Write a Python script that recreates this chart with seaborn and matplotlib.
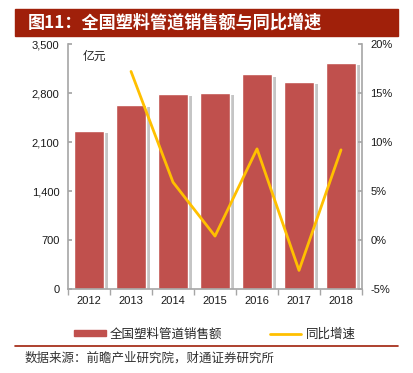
import numpy as np
import pandas as pd
import seaborn as sns
import matplotlib.pyplot as plt
import matplotlib.patheffects as pe
from matplotlib.patches import Rectangle
from matplotlib.lines import Line2D
from matplotlib.ticker import FuncFormatter, FixedLocator

years = ['2012', '2013', '2014', '2015', '2016', '2017', '2018']
sales = [2255, 2630, 2785, 2805, 3065, 2955, 3235]
growth_years = ['2013', '2014', '2015', '2016', '2017', '2018']
growth = [17.2, 5.9, 0.4, 9.3, -3.1, 9.2]

title = '图11：全国塑料管道销售额与同比增速'
source = '数据来源：前瞻产业研究院，财通证券研究所'
bar_label = '全国塑料管道销售额'
line_label = '同比增速'

sns.set_theme(style='white')
plt.rcParams['font.family'] = ['Liberation Sans', 'Noto Sans CJK SC', 'DejaVu Sans']
cjk = ['Noto Sans CJK SC', 'DejaVu Sans']

bar_color = '#C0504D'
line_color = '#FFC000'
axis_gray = '#A6A6A6'

fig = plt.figure(figsize=(4.14, 3.73), dpi=100)
ax = fig.add_axes([0.1643, 0.2252, 0.7101, 0.6568])

df = pd.DataFrame({'year': years, 'sales': sales})
sns.barplot(data=df, x='year', y='sales', color=bar_color, saturation=1,
            width=0.72, ax=ax)
for p in ax.patches:
    p.set_path_effects([pe.SimplePatchShadow(offset=(2.5, -1.5), shadow_rgbFace='#808080', alpha=0.45),
                        pe.Normal()])

ax.set_ylim(0, 3500)
ax.set_xlim(-0.5, len(years) - 0.5)
ax.set_yticks(np.arange(0, 3501, 700))
ax.yaxis.set_major_formatter(FuncFormatter(lambda v, _: f'{int(v):,}'))
ax.set_xlabel('')
ax.set_ylabel('')
ax.xaxis.set_minor_locator(FixedLocator(np.arange(-0.5, len(years), 1)))
ax.tick_params(axis='x', which='major', length=0, labelsize=8, pad=5, colors='#1a1a1a')
ax.tick_params(axis='x', which='minor', length=4, direction='out', color=axis_gray, width=1, bottom=True)
ax.tick_params(axis='y', length=3, direction='in', color=axis_gray, labelsize=8, pad=6, left=True, labelcolor='#1a1a1a')
for s in ['left', 'bottom']:
    ax.spines[s].set_color(axis_gray)
    ax.spines[s].set_linewidth(1.2)
ax.spines['top'].set_visible(False)
ax.spines['right'].set_visible(False)
ax.text(0.05, 0.975, '亿元', transform=ax.transAxes, fontsize=8.5, family=cjk,
        va='top', ha='left', color='#222222')

ax2 = ax.twinx()
gx = [years.index(y) for y in growth_years]
sns.lineplot(x=gx, y=growth, color=line_color, linewidth=2, ax=ax2)
ax2.set_ylim(-5, 20)
ax2.set_yticks(np.arange(-5, 21, 5))
ax2.yaxis.set_major_formatter(FuncFormatter(lambda v, _: f'{int(v)}%'))
ax2.tick_params(axis='y', length=3, direction='in', color=axis_gray, labelsize=8, pad=6, right=True, labelcolor='#1a1a1a')
ax2.set_ylabel('')
ax2.grid(False)
ax2.spines['right'].set_color(axis_gray)
ax2.spines['right'].set_linewidth(1.2)
for s in ['left', 'top', 'bottom']:
    ax2.spines[s].set_visible(False)
ax.grid(False)

# title bar
fig.patches.append(Rectangle((15 / 414, 1 - 36 / 373), 383 / 414, 27 / 373,
                             transform=fig.transFigure, color='#A0200A', zorder=0))
fig.text(28 / 414, 1 - 22.5 / 373, title, family=cjk, fontsize=12.3, fontweight='bold',
         color='white', va='center', ha='left')

# legend
handles = [Rectangle((0, 0), 1, 1, color=bar_color),
           Line2D([0], [0], color=line_color, linewidth=2)]
fig.legend(handles, [bar_label, line_label], loc='center', bbox_to_anchor=(215 / 414, 1 - 334 / 373),
           ncol=2, frameon=False, prop={'family': cjk, 'size': 9}, handlelength=2.5,
           handleheight=0.45, columnspacing=3.8, handletextpad=0.35)

# separator and source
fig.add_artist(Line2D([15 / 414, 398 / 414], [1 - 346 / 373, 1 - 346 / 373],
                      transform=fig.transFigure, color='#A0200A', linewidth=1.2))
fig.text(25 / 414, 1 - 358 / 373, source, family=cjk, fontsize=9, fontweight='medium',
         color='#333333', va='center', ha='left')

fig.savefig('out.png', dpi=100)
